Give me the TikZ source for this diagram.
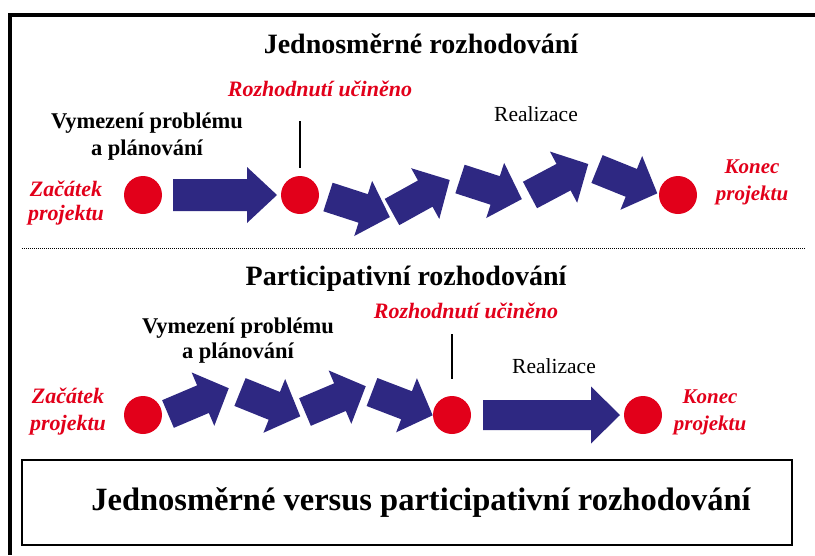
\documentclass[tikz,border=0pt]{standalone}
\usepackage{fontspec}
\setmainfont{Liberation Serif}
\definecolor{navy}{RGB}{46,40,130}
\definecolor{dred}{RGB}{226,0,26}
\tikzset{
  dotnode/.style={circle, fill=dred, minimum size=38pt, inner sep=0pt},
  txt/.style={anchor=base, inner sep=0pt, align=center},
  ttl/.style={txt, font=\fontsize{28}{30}\selectfont\bfseries},
  redlbl/.style={txt, text=dred, font=\fontsize{22}{24}\selectfont\bfseries\itshape},
  blacklbl/.style={txt, font=\fontsize{22.5}{27}\selectfont\bfseries},
  reallbl/.style={txt, font=\fontsize{21.5}{24}\selectfont},
  pics/barrow/.style n args={4}{code={
    \fill[navy] (0,-#2) -- ({#1-#4},-#2) -- ({#1-#4},-#3) -- (#1,0)
      -- ({#1-#4},#3) -- ({#1-#4},#2) -- (0,#2) -- cycle;}}
}
\begin{document}
\begin{tikzpicture}[x=1pt,y=-1pt]
\useasboundingbox (0,0) rectangle (815,555);
% outer frame
\draw[line width=4.5pt] (815,15) -- (10,15) -- (10,555);
% separator
\draw[line width=1pt, dash pattern=on 1pt off 1pt] (22,248) -- (805,248);

% ---------- top half ----------
\node[ttl] (t1) at (421,53) {Jednosměrné rozhodování};
\node[redlbl] (rd1) at (320,96) {Rozhodnutí učiněno};
\node[blacklbl] (vp1) at (147,155) {Vymezení problému\\a plánování};
\node[reallbl] (re1) at (536,121) {Realizace};
\node[redlbl, font=\fontsize{22}{24}\selectfont\bfseries\itshape] (za1) at (66,220) {Začátek\\projektu};
\node[redlbl, font=\fontsize{21}{27}\selectfont\bfseries\itshape] (ko1) at (752,200) {Konec\\projektu};

\node[dotnode] (s1) at (143,195) {};
\node[dotnode] (d1) at (300,195) {};
\node[dotnode] (e1) at (678,195) {};
\draw[line width=1.5pt] ([yshift=8pt]d1.north) -- ++(0,-47);

\pic at (173,195) {barrow={104}{16}{28}{30}};
\pic[rotate=-18] at (328,197) {barrow={65}{15}{29}{28}};
\pic[rotate=29]  at (392,212) {barrow={66}{15}{29}{28}};
\pic[rotate=-18] at (460,179) {barrow={65}{15}{29}{28}};
\pic[rotate=28]  at (530,195) {barrow={66}{15}{29}{28}};
\pic[rotate=-22] at (597,169) {barrow={65}{15}{29}{28}};

% ---------- bottom half ----------
\node[ttl] (t2) at (406,285) {Participativní rozhodování};
\node[redlbl] (rd2) at (466,318) {Rozhodnutí učiněno};
\node[blacklbl, font=\fontsize{22.5}{25}\selectfont\bfseries] (vp2) at (238,358) {Vymezení problému\\a plánování};
\node[reallbl] (re2) at (554,373) {Realizace};
\node[redlbl, font=\fontsize{22}{27}\selectfont\bfseries\itshape] (za2) at (68,430) {Začátek\\projektu};
\node[redlbl, font=\fontsize{21}{27}\selectfont\bfseries\itshape] (ko2) at (710,430) {Konec\\projektu};

\node[dotnode] (s2) at (143,415) {};
\node[dotnode] (d2) at (452,415) {};
\node[dotnode] (e2) at (643,415) {};
\draw[line width=1.5pt] ([yshift=17pt]d2.north) -- ++(0,-45);

\pic[rotate=23]  at (168,414) {barrow={66}{15}{29}{28}};
\pic[rotate=-22] at (240,392) {barrow={65}{15}{29}{28}};
\pic[rotate=23]  at (305,412) {barrow={66}{15}{29}{28}};
\pic[rotate=-21] at (372,392) {barrow={65}{15}{29}{28}};
\pic at (483,415) {barrow={137}{15}{28.5}{29}};

% ---------- caption box ----------
\node[draw, line width=2.5pt, minimum width=770pt, minimum height=85pt, inner sep=0pt] (box) at (407,502.5) {};
\node[txt, font=\fontsize{32.5}{34}\selectfont\bfseries] (cap) at (421,510) {Jednosměrné versus participativní rozhodování};
\end{tikzpicture}
\end{document}
